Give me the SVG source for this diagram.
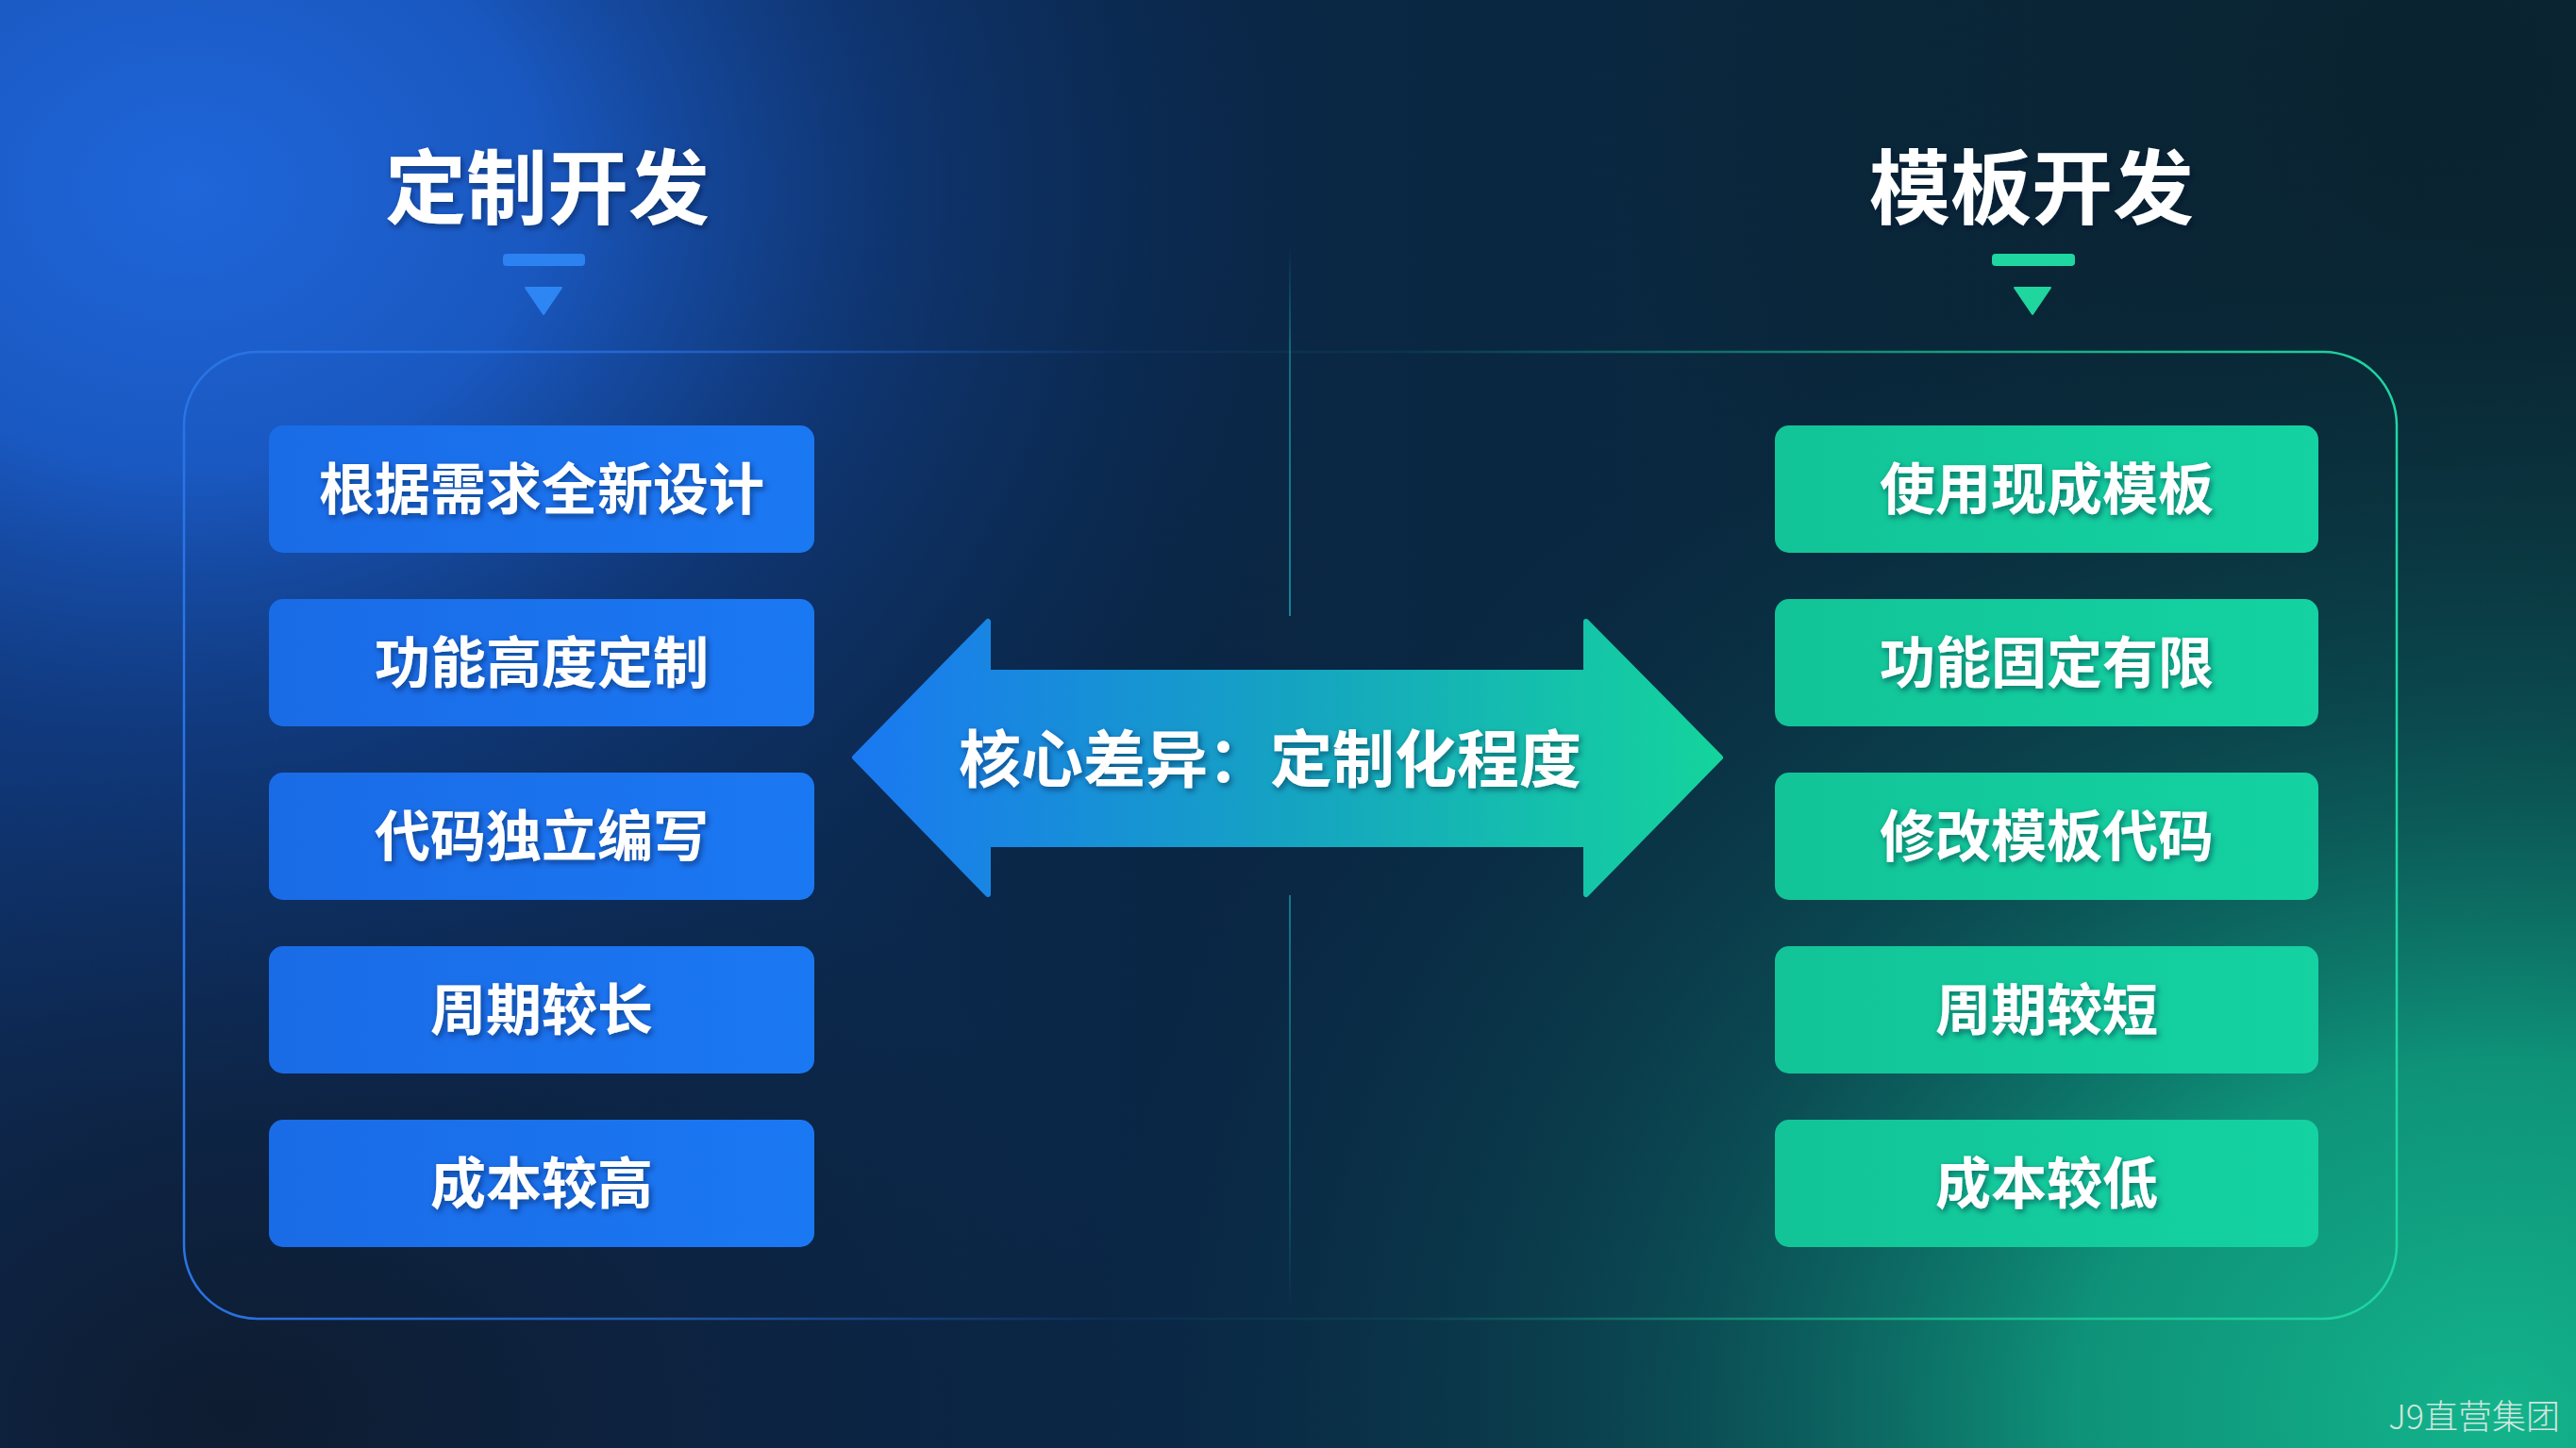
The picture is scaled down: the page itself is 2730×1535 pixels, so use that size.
<svg xmlns="http://www.w3.org/2000/svg" width="2730" height="1535" viewBox="0 0 2730 1535">
<defs>
<linearGradient id="bgBase" x1="0" y1="0" x2="1" y2="0">
<stop offset="0" stop-color="#0d2f62"/>
<stop offset="0.45" stop-color="#0a2645"/>
<stop offset="1" stop-color="#092a36"/>
</linearGradient>
<radialGradient id="bgBlue" cx="0" cy="0" r="1" gradientUnits="userSpaceOnUse" gradientTransform="translate(200 200) scale(1250 1000)">
<stop offset="0" stop-color="#1f66da" stop-opacity="1"/>
<stop offset="0.3" stop-color="#1b5dcc" stop-opacity="0.9"/>
<stop offset="0.6" stop-color="#14449a" stop-opacity="0.45"/>
<stop offset="1" stop-color="#0d2f66" stop-opacity="0"/>
</radialGradient>
<radialGradient id="bgGreen" cx="0" cy="0" r="1" gradientUnits="userSpaceOnUse" gradientTransform="translate(2650 1500) scale(1500 1250)">
<stop offset="0" stop-color="#13b48c" stop-opacity="1"/>
<stop offset="0.3" stop-color="#0f9e80" stop-opacity="0.9"/>
<stop offset="0.6" stop-color="#0c6864" stop-opacity="0.5"/>
<stop offset="1" stop-color="#0a3a48" stop-opacity="0"/>
</radialGradient>
<radialGradient id="bgDark" cx="0" cy="0" r="1" gradientUnits="userSpaceOnUse" gradientTransform="translate(250 1500) scale(1000 700)">
<stop offset="0" stop-color="#0e1c30" stop-opacity="1"/>
<stop offset="1" stop-color="#0e1c30" stop-opacity="0"/>
</radialGradient>
<radialGradient id="bgTopRight" cx="2600" cy="80" r="900" gradientUnits="userSpaceOnUse">
<stop offset="0" stop-color="#0a2230" stop-opacity="0.9"/>
<stop offset="1" stop-color="#0a2230" stop-opacity="0"/>
</radialGradient>
<linearGradient id="panelStroke" x1="195" y1="0" x2="2540" y2="0" gradientUnits="userSpaceOnUse">
<stop offset="0" stop-color="#2a74e6" stop-opacity="1"/>
<stop offset="0.2" stop-color="#2a74e6" stop-opacity="0.7"/>
<stop offset="0.42" stop-color="#2a74e6" stop-opacity="0.08"/>
<stop offset="0.55" stop-color="#1fc8a0" stop-opacity="0.08"/>
<stop offset="0.8" stop-color="#1fd0a0" stop-opacity="0.7"/>
<stop offset="1" stop-color="#1fd6a2" stop-opacity="1"/>
</linearGradient>
<linearGradient id="arrowGrad" x1="902" y1="0" x2="1827" y2="0" gradientUnits="userSpaceOnUse">
<stop offset="0" stop-color="#1a78f2"/>
<stop offset="0.5" stop-color="#15a3c2"/>
<stop offset="1" stop-color="#14d49c"/>
</linearGradient>
<linearGradient id="blueBox" x1="0" y1="0" x2="1" y2="0">
<stop offset="0" stop-color="#1a6be6"/>
<stop offset="1" stop-color="#1b78f3"/>
</linearGradient>
<linearGradient id="greenBox" x1="0" y1="0" x2="1" y2="0">
<stop offset="0" stop-color="#12c497"/>
<stop offset="1" stop-color="#14d2a2"/>
</linearGradient>
<linearGradient id="divTop" x1="0" y1="261" x2="0" y2="653" gradientUnits="userSpaceOnUse">
<stop offset="0" stop-color="#1a9aa8" stop-opacity="0"/>
<stop offset="0.3" stop-color="#1a9aa8" stop-opacity="0.6"/>
<stop offset="1" stop-color="#1a9aa8" stop-opacity="0.8"/>
</linearGradient>
<linearGradient id="divBot" x1="0" y1="949" x2="0" y2="1390" gradientUnits="userSpaceOnUse">
<stop offset="0" stop-color="#1a9aa8" stop-opacity="0.7"/>
<stop offset="0.7" stop-color="#1a9aa8" stop-opacity="0.35"/>
<stop offset="1" stop-color="#1a9aa8" stop-opacity="0"/>
</linearGradient>
<filter id="tshadow" x="-10%" y="-20%" width="120%" height="150%">
<feDropShadow dx="2" dy="3" stdDeviation="3" flood-color="#001030" flood-opacity="0.5"/>
</filter>
</defs>
<style>
.title{font-family:"Noto Sans CJK SC","Noto Sans",sans-serif;font-weight:700;font-size:86px;fill:#ffffff;text-anchor:middle}
.item{font-family:"Noto Sans CJK SC","Noto Sans",sans-serif;font-weight:700;font-size:59px;fill:#ffffff;text-anchor:middle}
.core{font-family:"Noto Sans CJK SC","Noto Sans",sans-serif;font-weight:700;font-size:66px;fill:#ffffff;text-anchor:middle}
.mark{font-family:"Noto Sans CJK SC","Noto Sans",sans-serif;font-weight:300;font-size:36px;fill:#cfe6de;text-anchor:end}
.bbox{fill:url(#blueBox)}
.gbox{fill:url(#greenBox)}
</style>

<!-- background -->
<rect x="0" y="0" width="2730" height="1535" fill="url(#bgBase)"/>
<rect x="0" y="0" width="2730" height="1535" fill="url(#bgDark)"/>
<rect x="0" y="0" width="2730" height="1535" fill="url(#bgTopRight)"/>
<rect x="0" y="0" width="2730" height="1535" fill="url(#bgBlue)"/>
<rect x="0" y="0" width="2730" height="1535" fill="url(#bgGreen)"/>

<!-- panel -->
<rect x="195" y="373" width="2345" height="1025" rx="78" ry="78" fill="none" stroke="url(#panelStroke)" stroke-width="2.5"/>

<!-- divider -->
<line x1="1367" y1="261" x2="1367" y2="653" stroke="url(#divTop)" stroke-width="2"/>
<line x1="1367" y1="949" x2="1367" y2="1390" stroke="url(#divBot)" stroke-width="2"/>

<!-- headers -->
<g id="header-custom">
<text class="title" x="580" y="231" filter="url(#tshadow)">定制开发</text>
<rect x="533" y="269" width="87" height="13" rx="4" fill="#2c82f0"/>
<polygon points="557,305 595,305 576,333" fill="#2e86f5" stroke="#2e86f5" stroke-width="2" stroke-linejoin="round"/>
</g>
<g id="header-template">
<text class="title" x="2153" y="231" filter="url(#tshadow)">模板开发</text>
<rect x="2111" y="269" width="88" height="13" rx="4" fill="#1fd6a0"/>
<polygon points="2135,305 2173,305 2154,333" fill="#1fd69e" stroke="#1fd69e" stroke-width="2" stroke-linejoin="round"/>
</g>

<!-- left column -->
<g id="c1"><rect class="bbox" x="285" y="451" width="578" height="135" rx="15"/><text class="item" x="574" y="540" filter="url(#tshadow)">根据需求全新设计</text></g>
<g id="c2"><rect class="bbox" x="285" y="635" width="578" height="135" rx="15"/><text class="item" x="574" y="724" filter="url(#tshadow)">功能高度定制</text></g>
<g id="c3"><rect class="bbox" x="285" y="819" width="578" height="135" rx="15"/><text class="item" x="574" y="908" filter="url(#tshadow)">代码独立编写</text></g>
<g id="c4"><rect class="bbox" x="285" y="1003" width="578" height="135" rx="15"/><text class="item" x="574" y="1092" filter="url(#tshadow)">周期较长</text></g>
<g id="c5"><rect class="bbox" x="285" y="1187" width="578" height="135" rx="15"/><text class="item" x="574" y="1276" filter="url(#tshadow)">成本较高</text></g>

<!-- right column -->
<g id="t1"><rect class="gbox" x="1881" y="451" width="576" height="135" rx="15"/><text class="item" x="2169" y="540" filter="url(#tshadow)">使用现成模板</text></g>
<g id="t2"><rect class="gbox" x="1881" y="635" width="576" height="135" rx="15"/><text class="item" x="2169" y="724" filter="url(#tshadow)">功能固定有限</text></g>
<g id="t3"><rect class="gbox" x="1881" y="819" width="576" height="135" rx="15"/><text class="item" x="2169" y="908" filter="url(#tshadow)">修改模板代码</text></g>
<g id="t4"><rect class="gbox" x="1881" y="1003" width="576" height="135" rx="15"/><text class="item" x="2169" y="1092" filter="url(#tshadow)">周期较短</text></g>
<g id="t5"><rect class="gbox" x="1881" y="1187" width="576" height="135" rx="15"/><text class="item" x="2169" y="1276" filter="url(#tshadow)">成本较低</text></g>

<!-- connectors -->
<g id="connectors">
<polygon points="906,803 1047,659 1047,713 1681,713 1681,659 1823,803 1681,948 1681,895 1047,895 1047,948" fill="url(#arrowGrad)" stroke="url(#arrowGrad)" stroke-width="6" stroke-linejoin="round"/>
</g>
<g id="core-label">
<text class="core" x="1346" y="829" filter="url(#tshadow)">核心差异：定制化程度</text>
</g>

<!-- watermark -->
<text class="mark" x="2713" y="1515">J9直营集团</text>
</svg>
